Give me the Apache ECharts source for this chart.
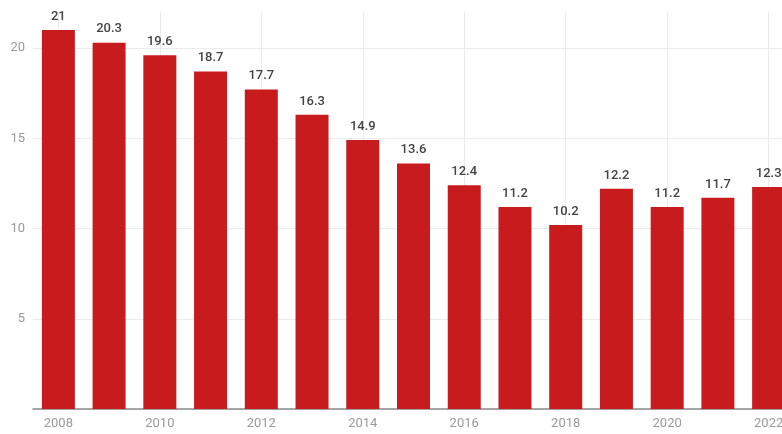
<!DOCTYPE html>
<html>
<head>
<meta charset="utf-8">
<script src="https://cdn.jsdelivr.net/npm/echarts@6/dist/echarts.min.js"></script>
<style>html,body{margin:0;padding:0;background:#fff;overflow:hidden;}#c{width:794px;height:434px;}</style>
</head>
<body>
<div id="c"></div>
<script>
const years = ['2008','2009','2010','2011','2012','2013','2014','2015','2016','2017','2018','2019','2020','2021','2022'];
const values = [21, 20.3, 19.6, 18.7, 17.7, 16.3, 14.9, 13.6, 12.4, 11.2, 10.2, 12.2, 11.2, 11.7, 12.3];
const gridYears = ['2008','2010','2012','2014','2016','2018','2020','2022'];

const chart = echarts.init(document.getElementById('c'), null, {renderer: 'canvas'});
chart.setOption({
  animation: false,
  grid: {left: 33, right: 0, top: 12, bottom: 25, containLabel: false},
  xAxis: {
    type: 'category',
    data: years,
    boundaryGap: true,
    axisLine: {lineStyle: {color: '#8a8a8a', width: 1.5}},
    axisTick: {show: false},
    axisLabel: {interval: 1, color: '#9a9a9a', fontSize: 13, margin: 8, fontFamily: 'Roboto'},
    splitLine: {show: false}
  },
  yAxis: {
    type: 'value',
    min: 0, max: 22, interval: 5,
    axisLine: {show: false},
    axisTick: {show: false},
    axisLabel: {showMinLabel: false, showMaxLabel: false, color: '#9a9a9a', fontSize: 13, margin: 8, fontFamily: 'Roboto'},
    splitLine: {showMaxLine: false, lineStyle: {color: '#ebebeb', width: 1}}
  },
  series: [
    {
      type: 'line',
      data: [],
      z: 1,
      silent: true,
      markLine: {
        z: 1,
        silent: true,
        symbol: 'none',
        label: {show: false},
        lineStyle: {color: '#ebebeb', width: 1, type: 'solid'},
        data: gridYears.map(y => ({xAxis: y}))
      }
    },
    {
      type: 'bar',
      data: values,
      z: 3,
      barWidth: 33,
      itemStyle: {color: '#c81b1e'},
      label: {
        show: true,
        position: 'top',
        distance: 7,
        color: '#444',
        fontSize: 13,
        fontWeight: 500,
        fontFamily: 'Roboto'
      }
    }
  ]
});
</script>
</body>
</html>
